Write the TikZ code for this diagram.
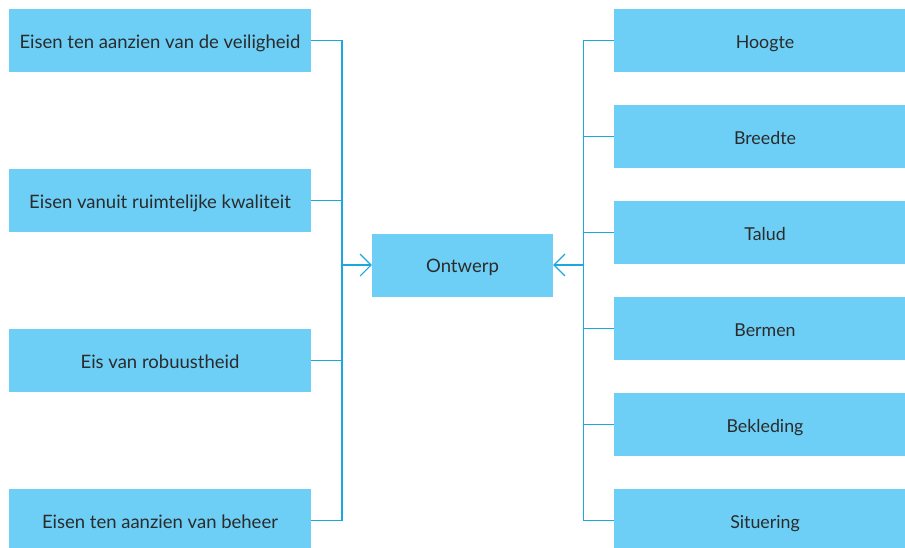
\documentclass[tikz,border=0pt]{standalone}
\usepackage{fontspec}
\setmainfont{Lato}
\usetikzlibrary{arrows.meta}
\definecolor{boxfill}{HTML}{6DCFF6}
\definecolor{linec}{HTML}{1BA7E0}
\definecolor{txt}{HTML}{2B2B2B}
\begin{document}
\begin{tikzpicture}[x=1pt,y=-1pt,
  blk/.style={fill=boxfill,draw=none,minimum width=302pt,minimum height=63pt,inner sep=0pt,text=txt,font=\fontsize{18.5}{22}\selectfont,text height=15pt,text depth=0pt,anchor=center},
  rblk/.style={blk,font=\fontsize{17.8}{21}\selectfont,text height=15.5pt},
  conn/.style={draw=linec,line width=1.1pt},
  arr/.style={conn,-{Straight Barb[length=11pt,width=22pt,line width=1.1pt]}}]
\useasboundingbox (0,0) rectangle (905,547);
% left boxes
\node[blk] (l1) at (160,40.5) {Eisen ten aanzien van de veiligheid};
\node[blk] (l2) at (160,200.5) {Eisen vanuit ruimtelijke kwaliteit};
\node[blk] (l3) at (160,360.5) {Eis van robuustheid};
\node[blk] (l4) at (160,520.5) {Eisen ten aanzien van beheer};
% centre
\node[blk,minimum width=181pt] (o) at (462.5,265) {Ontwerp};
% right boxes
\node[rblk] (r1) at (765,40.5) {Hoogte};
\node[rblk] (r2) at (765,136.5) {Breedte};
\node[rblk] (r3) at (765,232.5) {Talud};
\node[rblk] (r4) at (765,328.5) {Bermen};
\node[rblk] (r5) at (765,424.5) {Bekleding};
\node[rblk] (r6) at (765,520.5) {Situering};
% junctions
\coordinate (jl) at (342,265);
\coordinate (jr) at (583.5,265);
\foreach \n in {l1,l2,l3,l4} \draw[conn] (\n.east) -| (jl);
\foreach \n in {r1,r2,r3,r4,r5,r6} \draw[conn] (\n.west) -| (jr);
\draw[arr] (jl) -- (o.west);
\draw[arr] (jr) -- (o.east);
\end{tikzpicture}
\end{document}
